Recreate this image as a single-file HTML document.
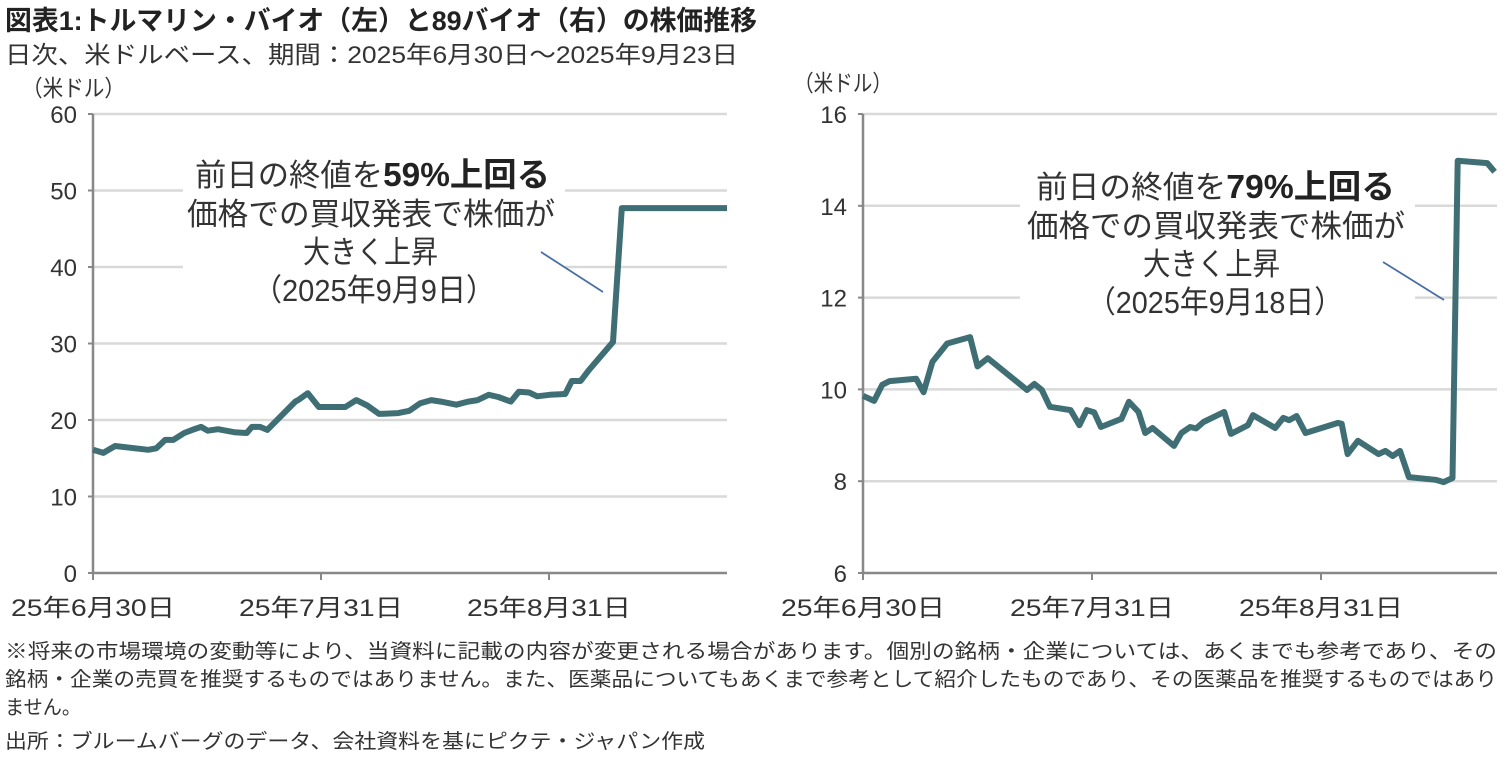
<!DOCTYPE html>
<html><head><meta charset="utf-8"><style>
html,body{margin:0;padding:0;background:#fff;}
svg{display:block;font-family:"Liberation Sans","Noto Sans CJK JP",sans-serif;}
</style></head><body>
<svg id="chart" width="1507" height="757" viewBox="0 0 1507 757" xmlns="http://www.w3.org/2000/svg">
<text x="5" y="30" font-size="27" font-weight="bold" fill="#222" textLength="752" lengthAdjust="spacingAndGlyphs">図表1:トルマリン・バイオ（左）と89バイオ（右）の株価推移</text>
<text x="5" y="63" font-size="24" fill="#333" textLength="733" lengthAdjust="spacingAndGlyphs">日次、米ドルベース、期間：2025年6月30日～2025年9月23日</text>
<text x="22" y="96" font-size="23" fill="#333" textLength="103" lengthAdjust="spacingAndGlyphs">（米ドル）</text>
<text x="794" y="91" font-size="23" fill="#333" textLength="98" lengthAdjust="spacingAndGlyphs">（米ドル）</text>
<g id="left"></g>
<g id="right"></g>
<g font-size="20" fill="#333">
<text x="5" y="658" textLength="1492" lengthAdjust="spacingAndGlyphs">※将来の市場環境の変動等により、当資料に記載の内容が変更される場合があります。個別の銘柄・企業については、あくまでも参考であり、その</text>
<text x="5" y="686" textLength="1492" lengthAdjust="spacingAndGlyphs">銘柄・企業の売買を推奨するものではありません。また、医薬品についてもあくまで参考として紹介したものであり、その医薬品を推奨するものではあり</text>
<text x="5" y="714" textLength="76" lengthAdjust="spacingAndGlyphs">ません。</text>
<text x="5" y="748" textLength="700" lengthAdjust="spacingAndGlyphs">出所：ブルームバーグのデータ、会社資料を基にピクテ・ジャパン作成</text>
</g>
</svg>
<script>
// Left chart data: day offset from 2025-06-30, price (USD)
const leftDays = [0,1.4,3,7.5,8.6,9.8,10.9,12.4,13.5,14.7,15.6,17,19.2,20.9,21.6,22.7,23.7,27.5,27.9,29.2,30.7,32.1,34.3,35.8,37.3,38.9,41.5,43,44.5,46,47.3,49.4,51,52.3,53.8,55.1,56.8,57.9,59.3,60.4,62.1,64.2,65.1,66.3,67.4,70.7,71.9,86.2];
const leftPrices = [16.1,15.7,16.6,16.1,16.3,17.4,17.4,18.3,18.7,19.1,18.6,18.8,18.4,18.3,19.1,19.1,18.7,22.4,22.6,23.5,21.7,21.7,21.7,22.6,21.9,20.8,20.9,21.2,22.2,22.6,22.4,22.0,22.4,22.6,23.3,23.0,22.4,23.7,23.6,23.1,23.3,23.4,25.1,25.1,26.5,30.2,47.7,47.7];
const leftTicks = [0,10,20,30,40,50,60];
// Right chart data
const rightDays = [0,1.5,2.6,3.6,7.2,8.2,9.4,11.4,14.5,15.5,16.9,22.2,23.2,24.2,25.3,28.1,29.3,30.3,31.3,32.2,35,36,37.3,38.2,39.2,42.1,43.1,44.3,45.1,46.1,48.9,49.8,52.1,52.8,55.8,56.9,57.7,58.7,59.9,64.3,64.8,65.6,67,69.8,70.7,71.7,72.7,73.9,77.5,78.6,79.8,80.5,84.5,85.5];
const rightPrices = [9.86,9.75,10.1,10.18,10.23,9.94,10.6,11.0,11.14,10.5,10.68,9.99,10.12,9.99,9.62,9.55,9.22,9.55,9.5,9.18,9.36,9.73,9.51,9.05,9.16,8.77,9.05,9.18,9.15,9.29,9.51,9.03,9.22,9.44,9.16,9.38,9.33,9.42,9.05,9.27,9.25,8.59,8.88,8.59,8.66,8.55,8.66,8.09,8.03,7.98,8.07,14.98,14.93,14.74];
const rightTicks = [6,8,10,12,14,16];
const xTickLabels = ["25年6月30日","25年7月31日","25年8月31日"];
const xTickDays = [0,31,62];

const NS="http://www.w3.org/2000/svg";
function mk(tag,attrs,parent){const e=document.createElementNS(NS,tag);for(const k in attrs)e.setAttribute(k,attrs[k]);parent.appendChild(e);return e;}

function drawChart(g,cfg){
  const x=d=>cfg.x0+d*cfg.pxPerDay;
  const y=v=>cfg.yBottom-(v-cfg.vmin)/(cfg.vmax-cfg.vmin)*(cfg.yBottom-cfg.yTop);
  cfg.ticks.forEach(t=>{
    if(t!==cfg.vmin){
      const gl=mk('line',{x1:cfg.x0,x2:cfg.x1,y1:y(t),y2:y(t),stroke:'#d9d9d9','stroke-width':2.5},g);
      
      
    }
    const tk=mk('line',{x1:cfg.x0-5,x2:cfg.x0,y1:y(t),y2:y(t),stroke:'#888','stroke-width':2},g);
    
    
    const lb=mk('text',{x:cfg.x0-16,y:y(t)+9,'font-size':24,fill:'#333','text-anchor':'end'},g);
    
    
    lb.textContent=String(t);
  });
  const ya=mk('line',{x1:cfg.x0,x2:cfg.x0,y1:cfg.yTop,y2:cfg.yBottom,stroke:'#888','stroke-width':2.5},g);
  
  
  const xa=mk('line',{x1:cfg.x0,x2:cfg.x1,y1:cfg.yBottom,y2:cfg.yBottom,stroke:'#888','stroke-width':2.5},g);
  
  
  xTickDays.forEach((d,i)=>{
    const tk=mk('line',{x1:x(d),x2:x(d),y1:cfg.yBottom,y2:cfg.yBottom+7,stroke:'#888','stroke-width':2},g);
    
    
    const lb=mk('text',{x:x(d)-82,y:616,'font-size':24,fill:'#333',textLength:164,lengthAdjust:'spacingAndGlyphs'},g);
    
    
    lb.textContent=xTickLabels[i];
  });
  // annotation background
  const bg=mk('rect',{x:cfg.ann.bx,y:cfg.ann.by,width:cfg.ann.bw,height:cfg.ann.bh,fill:'#fff'},g);
  
  
  const pts=cfg.days.map((d,i)=>x(d).toFixed(1)+','+y(cfg.vals[i]).toFixed(1)).join(' ');
  const pl=mk('polyline',{points:pts,fill:'none',stroke:'#3f6f75','stroke-width':6,'stroke-linejoin':'round'},g);
  
  
  const pt=mk('line',{x1:cfg.ann.p[0],y1:cfg.ann.p[1],x2:cfg.ann.p[2],y2:cfg.ann.p[3],stroke:'#4a6fa5','stroke-width':1.8},g);
  
  
  const a=cfg.ann;
  const t1=mk('text',{x:a.l1[0],y:a.l1[1],'font-size':31,fill:'#333',textLength:a.l1[2],lengthAdjust:'spacingAndGlyphs'},g);
  
  
  t1.innerHTML='前日の終値を<tspan font-weight="bold" font-size="33" fill="#222">'+a.pct+'上回る</tspan>';
  [['価格での買収発表で株価が',a.l2],['大きく上昇',a.l3],[a.date,a.l4]].forEach((s,i)=>{
    const t=mk('text',{x:s[1][0],y:s[1][1],'font-size':31,fill:'#333',textLength:s[1][2],lengthAdjust:'spacingAndGlyphs'},g);
    
    
    t.textContent=s[0];
  });
}
drawChart(document.getElementById('left'),{x0:93,x1:727,pxPerDay:228/31,yTop:114,yBottom:573,vmin:0,vmax:60,ticks:leftTicks,days:leftDays,vals:leftPrices,
  ann:{bx:183,by:150,bw:382,bh:165,p:[541,252,603,292],pct:'59%',date:'（2025年9月9日）',l1:[195,186,355],l2:[187,225,368],l3:[303,263,135],l4:[253,301,242]}});
drawChart(document.getElementById('right'),{x0:863,x1:1497,pxPerDay:229/31,yTop:114,yBottom:573,vmin:6,vmax:16,ticks:rightTicks,days:rightDays,vals:rightPrices,
  ann:{bx:1020,by:163,bw:395,bh:165,p:[1383,262,1444,300],pct:'79%',date:'（2025年9月18日）',l1:[1036,198,359],l2:[1027,237,378],l3:[1143,275,137],l4:[1087,313,256]}});
</script>
</body></html>
